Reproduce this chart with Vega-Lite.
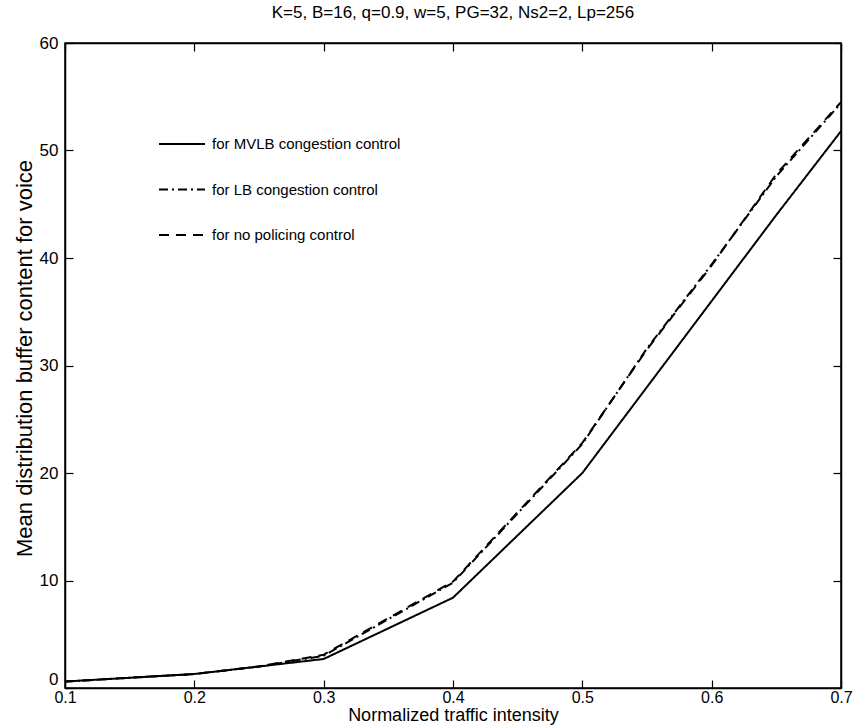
{
  "$schema": "https://vega.github.io/schema/vega-lite/v6.json",
  "width": 776,
  "height": 645,
  "autosize": "none",
  "padding": {"left": 65, "top": 43, "right": 24, "bottom": 37},
  "background": "white",
  "config": {
    "font": "Liberation Sans",
    "view": {"stroke": "black", "strokeWidth": 1.5},
    "axis": {
      "domainColor": "black", "domainWidth": 1.5, "tickColor": "black", "tickWidth": 1.2,
      "tickSize": -8, "grid": false, "labelColor": "black", "titleColor": "black",
      "labelFont": "Liberation Sans", "titleFont": "Liberation Sans",
      "labelFontSize": 17, "titleFontSize": 18, "titleFontWeight": "normal"
    }
  },
  "title": {
    "text": "K=5, B=16, q=0.9, w=5, PG=32, Ns2=2, Lp=256",
    "fontSize": 17, "fontWeight": "normal", "color": "black", "offset": 12,
    "font": "Liberation Sans"
  },
  "data": {
    "values": [
      {"x": 0.1, "y": 0.6, "series": "for MVLB congestion control"},
      {"x": 0.2, "y": 1.3, "series": "for MVLB congestion control"},
      {"x": 0.25, "y": 2.0, "series": "for MVLB congestion control"},
      {"x": 0.3, "y": 2.7, "series": "for MVLB congestion control"},
      {"x": 0.4, "y": 8.4, "series": "for MVLB congestion control"},
      {"x": 0.5, "y": 20.0, "series": "for MVLB congestion control"},
      {"x": 0.55, "y": 28.0, "series": "for MVLB congestion control"},
      {"x": 0.6, "y": 36.0, "series": "for MVLB congestion control"},
      {"x": 0.65, "y": 44.0, "series": "for MVLB congestion control"},
      {"x": 0.7, "y": 51.8, "series": "for MVLB congestion control"},
      {"x": 0.1, "y": 0.6, "series": "for LB congestion control"},
      {"x": 0.2, "y": 1.3, "series": "for LB congestion control"},
      {"x": 0.25, "y": 2.0, "series": "for LB congestion control"},
      {"x": 0.3, "y": 3.0, "series": "for LB congestion control"},
      {"x": 0.4, "y": 9.8, "series": "for LB congestion control"},
      {"x": 0.5, "y": 22.7, "series": "for LB congestion control"},
      {"x": 0.55, "y": 31.6, "series": "for LB congestion control"},
      {"x": 0.6, "y": 39.4, "series": "for LB congestion control"},
      {"x": 0.65, "y": 47.6, "series": "for LB congestion control"},
      {"x": 0.7, "y": 54.4, "series": "for LB congestion control"},
      {"x": 0.1, "y": 0.6, "series": "for no policing control"},
      {"x": 0.2, "y": 1.3, "series": "for no policing control"},
      {"x": 0.25, "y": 2.0, "series": "for no policing control"},
      {"x": 0.3, "y": 3.1, "series": "for no policing control"},
      {"x": 0.4, "y": 9.9, "series": "for no policing control"},
      {"x": 0.5, "y": 22.8, "series": "for no policing control"},
      {"x": 0.55, "y": 31.5, "series": "for no policing control"},
      {"x": 0.6, "y": 39.3, "series": "for no policing control"},
      {"x": 0.65, "y": 47.8, "series": "for no policing control"},
      {"x": 0.7, "y": 54.5, "series": "for no policing control"}
    ]
  },
  "layer": [
    {
      "mark": {"type": "line", "strokeWidth": 2, "color": "black"},
      "encoding": {
        "x": {
          "field": "x", "type": "quantitative",
          "scale": {"domain": [0.1, 0.7], "nice": false, "zero": false},
          "axis": {"orient": "bottom", "values": [0.1, 0.2, 0.3, 0.4, 0.5, 0.6, 0.7], "format": ".1f",
                   "labelPadding": 9, "labelFontSize": 16, "title": "Normalized traffic intensity", "titlePadding": 1,
                   "labelFlush": false}
        },
        "y": {
          "field": "y", "type": "quantitative",
          "scale": {"domain": [0, 60], "nice": false},
          "axis": {"orient": "left", "values": [0, 10, 20, 30, 40, 50, 60], "labelPadding": 15,
                   "labelBaseline": {"condition": {"test": "datum.value == 0", "value": "bottom"}, "value": "middle"},
                   "title": "Mean distribution  buffer content for voice", "titlePadding": 3,
                   "titleFontSize": 22, "titleY": 315}
        },
        "strokeDash": {
          "field": "series", "type": "nominal",
          "scale": {
            "domain": ["for MVLB congestion control", "for LB congestion control", "for no policing control"],
            "range": [[1, 0], [9, 4, 2, 4], [10, 7]]
          },
          "legend": {
            "orient": "none", "legendX": 93, "legendY": 77, "title": null,
            "symbolType": "stroke", "symbolSize": 2116, "symbolStrokeWidth": 2,
            "symbolStrokeColor": "black", "labelFontSize": 15, "labelColor": "black",
            "labelFont": "Liberation Sans",
            "labelOffset": 6, "rowPadding": 13.5, "padding": 0, "labelLimit": 0
          }
        }
      }
    },
    {
      "mark": {"type": "line", "opacity": 0},
      "encoding": {
        "x": {
          "field": "x", "type": "quantitative",
          "scale": {"domain": [0.1, 0.7], "nice": false, "zero": false},
          "axis": {"orient": "top", "values": [0.1, 0.2, 0.3, 0.4, 0.5, 0.6, 0.7], "labels": false, "title": null}
        },
        "y": {
          "field": "y", "type": "quantitative",
          "scale": {"domain": [0, 60], "nice": false},
          "axis": {"orient": "right", "values": [0, 10, 20, 30, 40, 50, 60], "labels": false, "title": null}
        }
      }
    }
  ]
}
